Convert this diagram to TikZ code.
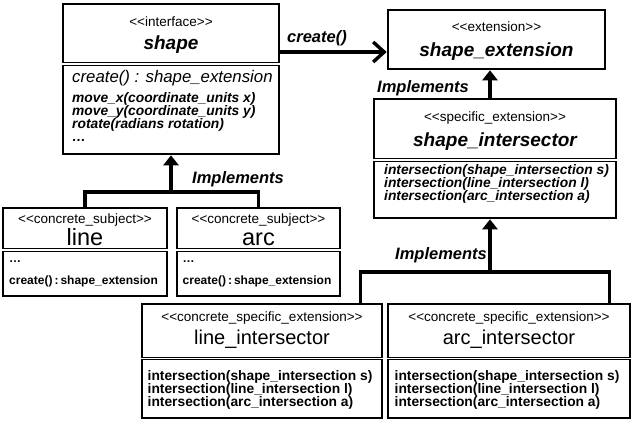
\documentclass[tikz,border=0pt]{standalone}
\usepackage{fontspec}
\setmainfont{Liberation Sans}[Ligatures=TeXOff]
\usetikzlibrary{arrows.meta}

\tikzset{
  umlbox/.style={draw, line width=2.6pt, rectangle, inner sep=0pt},
  stereo/.style={font=\fontsize{13.5}{14}\selectfont, anchor=base, inner sep=0pt},
  ifname/.style={font=\fontsize{19}{20}\selectfont\bfseries\itshape, anchor=base, inner sep=0pt},
  clname/.style={font=\fontsize{20}{22}\selectfont, anchor=base, inner sep=0pt},
  opit/.style={font=\fontsize{13.8}{13}\selectfont\bfseries\itshape, anchor=base west, inner sep=0pt},
  opbf/.style={font=\fontsize{13.8}{13}\selectfont\bfseries, anchor=base west, inner sep=0pt},
  opsm/.style={font=\fontsize{12}{12}\selectfont\bfseries, anchor=base west, inner sep=0pt},
  sepline/.style={double, double distance=1.2pt, line width=1pt},
  conn/.style={line width=3.4pt},
  implements/.style={conn, -{Triangle[length=10pt,width=15pt]}},
  lbl/.style={font=\fontsize{16.5}{18}\selectfont\bfseries\itshape, anchor=base west, inner sep=0pt},
}

\begin{document}
\begin{tikzpicture}[x=1pt, y=-1pt]

    \fill[white] (0,0) rectangle (632,422);
    \useasboundingbox (0,0) rectangle (632,422);

    % interface
    \node[umlbox, minimum width=216pt, minimum height=150pt] (shape) at (171,79) {};
    \node[stereo] (shape-st) at (171,27) {<<interface>>};
    \node[ifname] (shape-nm) at (171,50) {shape};
    \node[font=\fontsize{16.8}{18}\selectfont\itshape, anchor=base west, inner sep=0pt] (shape-cr) at (72,83) {create() : shape\_extension};
    \foreach \t [count=\i] in {move\_x(coordinate\_units x), move\_y(coordinate\_units y), rotate(radians rotation), \dots}
        \node[opit] (shape-op\i) at (72,90+13*\i) {\t};

    % concrete subjects
    \foreach \n/\x/\w in {line/85/164, arc/258.5/163} {
        \node[umlbox, minimum width=\w pt, minimum height=88pt] (\n) at (\x,252) {};
        \node[stereo] (\n-st) at (\x,224) {<<concrete\_subject>>};
        \node[font=\fontsize{23.5}{24}\selectfont, anchor=base, inner sep=0pt] (\n-nm) at (\x,246) {\n};
        \node[opsm] (\n-dt) at (\x-76,262) {\dots};
        \node[opsm] (\n-cr) at (\x-76,284) {create()\,:\,shape\_extension};
    }

    % extension
    \node[umlbox, minimum width=217pt, minimum height=59pt] (ext) at (496.5,39.5) {};
    \node[stereo] (ext-st) at (496.5,32) {<<extension>>};
    \node[ifname] (ext-nm) at (496.5,57) {shape\_extension};

    % specific extension
    \node[umlbox, minimum width=242pt, minimum height=119pt] (inter) at (495,158.5) {};
    \node[stereo] (inter-st) at (495,122) {<<specific\_extension>>};
    \node[ifname] (inter-nm) at (495,147) {shape\_intersector};
    \foreach \t [count=\i] in {shape\_intersection s, line\_intersection l, arc\_intersection a}
        \node[opit] (inter-op\i) at (384,162+13*\i) {intersection(\t)};

    % concrete specific extensions
    \foreach \n/\x/\w/\nm in {lint/262/240/line\_intersector, aint/509/242/arc\_intersector} {
        \node[umlbox, minimum width=\w pt, minimum height=114pt] (\n) at (\x,361) {};
        \node[stereo] (\n-st) at (\x,321) {<<concrete\_specific\_extension>>};
        \node[clname] (\n-nm) at (\x,344) {\nm};
        \foreach \t [count=\i] in {shape\_intersection s, line\_intersection l, arc\_intersection a}
            \node[opbf] (\n-op\i) at (\x-114.5,367+13*\i) {intersection(\t)};
    }

    \foreach \b/\y in {shape/64, line/250, arc/250, inter/160, lint/358.5, aint/358.5}
        \draw[sepline] (\b.west |- 0,\y) -- (\b.east |- 0,\y);

    % connectors
    \coordinate (cr) at (shape.east |- 0,52);
    \draw[conn, -{Straight Barb[length=11pt,width=20pt]}] (cr) -- (cr -| ext.west);
    \node[lbl] (cr-lb) at (287,43) {create()};

    \coordinate (jl) at (shape.south |- 0,192);
    \draw[conn] (line.north) |- (jl) -| (arc.north);
    \draw[implements] (jl) -- (shape.south);
    \node[lbl] (jl-lb) at (192,184) {Implements};

    \draw[implements] ([xshift=-5pt]inter.north) -- ([xshift=-5pt]inter.north |- ext.south);
    \node[lbl] (je-lb) at (377,93) {Implements};

    \coordinate (jb) at ([xshift=-5pt]inter.south |- 0,272);
    \draw[conn] ([xshift=-23pt]lint.north east) |- (jb) -| ([xshift=-22pt]aint.north east);
    \draw[implements] (jb) -- ([xshift=-5pt]inter.south);
    \node[lbl] (jb-lb) at (395,260) {Implements};

\end{tikzpicture}
\end{document}
